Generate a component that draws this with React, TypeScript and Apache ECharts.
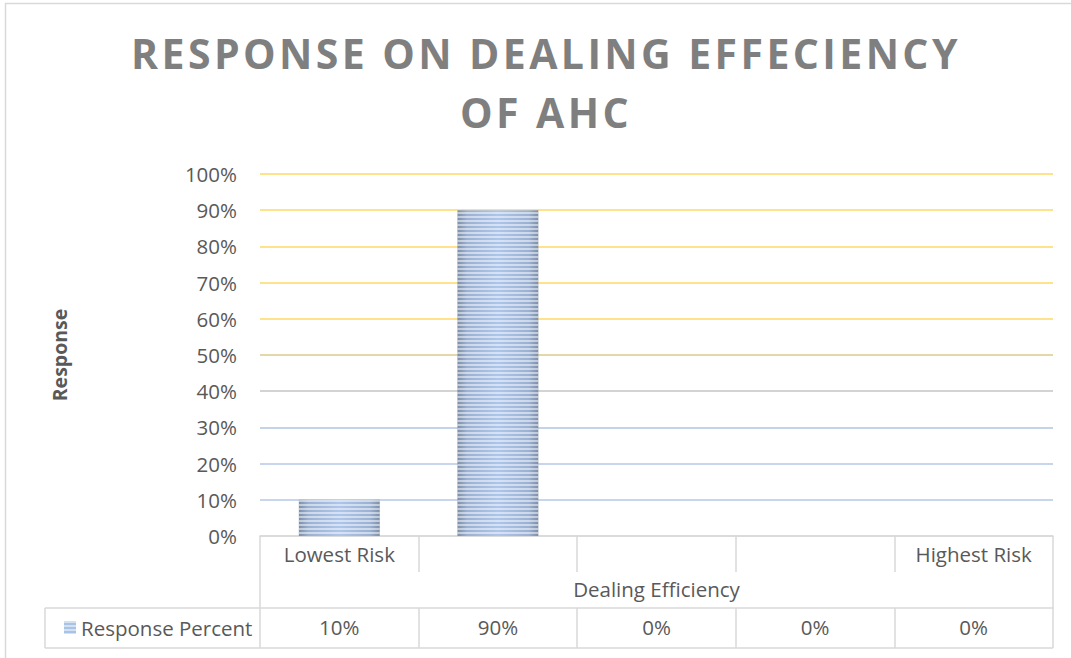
import React, { useEffect, useRef } from "react";
import * as echarts from "echarts";

const titleLines = ["RESPONSE ON DEALING EFFECIENCY", "OF AHC"];
const categories = ["Lowest Risk", "", "", "", "Highest Risk"];
const seriesName = "Response Percent";
const responsePercent = [10, 90, 0, 0, 0];
const yTicks = { min: 0, max: 100, interval: 10 };
const xAxisName = "Dealing Efficiency";
const yAxisName = "Response";
const gridColors = [
  "#d9d9d9", // 0%
  "#b4c7e7", // 10%
  "#b4c7e7", // 20%
  "#b1c4e2", // 30%
  "#c3c6c3", // 40%
  "#dacb8e", // 50%
  "#ffd966", // 60%
  "#ffd966",
  "#ffd966",
  "#ffd966",
  "#ffd966", // 100%
];

const TEXT = "#595959";
const LINE = "#d9d9d9";
const FONT = "'Open Sans', 'Noto Sans', sans-serif";
const FS = 20.5;

export default function App() {
  const ref = useRef<HTMLDivElement>(null);
  useEffect(() => {
    document.body.style.margin = "0";
    if (!ref.current) return;
    const chart = echarts.init(ref.current, null, { renderer: "svg" });
    const left = 260, right = 1053, axisY = 536, rowSepY = 572, dataTop = 608, dataBottom = 648, legendLeft = 45;
    chart.setOption({
      animation: false,
      textStyle: { fontFamily: FONT },
      grid: { left: left, right: 1071 - right, top: 174, bottom: 658 - axisY },
      legend: {
        left: 59,
        top: 612,
        itemWidth: 12,
        itemHeight: 13,
        itemGap: 5,
        icon: "rect",
        textStyle: { color: TEXT, fontSize: FS, fontFamily: FONT },
        data: [{ name: seriesName, itemStyle: { color: "#a9c3e6" } }],
      },
      xAxis: [
        {
          type: "category",
          data: categories,
          position: "bottom",
          axisLine: { show: true, lineStyle: { color: LINE, width: 1.5 } },
          axisTick: { show: true, length: rowSepY - axisY, interval: 0, lineStyle: { color: LINE, width: 1.5 } },
          axisLabel: { interval: 0, color: TEXT, fontSize: FS, margin: 7 },
          name: xAxisName,
          nameLocation: "middle",
          nameGap: 42,
          nameTextStyle: { color: TEXT, fontSize: FS },
        },
        {
          type: "category",
          data: responsePercent.map((v) => v + "%"),
          position: "bottom",
          offset: dataTop - axisY,
          axisLine: { show: true, lineStyle: { color: LINE, width: 1.5 } },
          axisTick: { show: true, length: dataBottom - dataTop, interval: 0, lineStyle: { color: LINE, width: 1.5 } },
          axisLabel: { interval: 0, color: TEXT, fontSize: FS, margin: 8 },
        },
      ],
      yAxis: {
        type: "value",
        min: yTicks.min,
        max: yTicks.max,
        interval: yTicks.interval,
        axisLine: { show: false },
        axisTick: { show: false },
        axisLabel: { color: TEXT, fontSize: FS, margin: 23, formatter: (v: number) => v + "%" },
        splitLine: { show: true, lineStyle: { color: gridColors, width: 1.5 } },
        name: yAxisName,
        nameLocation: "middle",
        nameRotate: 90,
        nameGap: 191,
        nameTextStyle: { color: TEXT, fontSize: 19.5, fontWeight: "bold" },
      },
      series: [
        {
          name: seriesName,
          type: "bar",
          xAxisIndex: 0,
          data: responsePercent,
          barWidth: "51%",
          itemStyle: {
            color: {
              type: "linear",
              x: 0, y: 0, x2: 1, y2: 0,
              colorStops: [
                { offset: 0, color: "#7d8ea8" },
                { offset: 0.12, color: "#9bb1d3" },
                { offset: 0.5, color: "#adc5ea" },
                { offset: 0.88, color: "#9bb1d3" },
                { offset: 1, color: "#7d8ea8" },
              ],
            },
            decal: {
              symbol: "rect",
              symbolSize: 1,
              dashArrayX: [1, 0],
              dashArrayY: [1.5, 2],
              rotation: 0,
              color: "rgba(255,255,255,0.5)",
            },
          },
        },
      ],
      graphic: [
        {
          type: "rect",
          silent: true,
          shape: { x: 5.5, y: 3.5, width: 1100, height: 700 },
          style: { fill: "none", stroke: LINE, lineWidth: 1.5 },
        },
        {
          type: "text",
          x: 546,
          y: 53,
          style: {
            text: titleLines.join("\n"),
            textAlign: "center",
            textVerticalAlign: "top",
            fill: "#7f7f7f",
            fontSize: 41,
            fontWeight: "bold",
            fontFamily: FONT,
            lineHeight: 59,
          },
          top: 23,
        },
        { type: "line", silent: true, shape: { x1: legendLeft, y1: dataTop, x2: left, y2: dataTop }, style: { stroke: LINE, lineWidth: 1.5 } },
        { type: "line", silent: true, shape: { x1: legendLeft, y1: dataBottom, x2: right, y2: dataBottom }, style: { stroke: LINE, lineWidth: 1.5 } },
        { type: "line", silent: true, shape: { x1: legendLeft, y1: dataTop, x2: legendLeft, y2: dataBottom }, style: { stroke: LINE, lineWidth: 1.5 } },
        { type: "line", silent: true, shape: { x1: left, y1: rowSepY, x2: left, y2: dataTop }, style: { stroke: LINE, lineWidth: 1.5 } },
        { type: "line", silent: true, shape: { x1: right, y1: rowSepY, x2: right, y2: dataTop }, style: { stroke: LINE, lineWidth: 1.5 } },
      ],
    });
    return () => chart.dispose();
  }, []);
  return (
    <>
      <style>{`#chart svg text[style*="41px"]{letter-spacing:3.4px;}`}</style>
      <div id="chart" ref={ref} style={{ width: 1071, height: 658 }} />
    </>
  );
}
